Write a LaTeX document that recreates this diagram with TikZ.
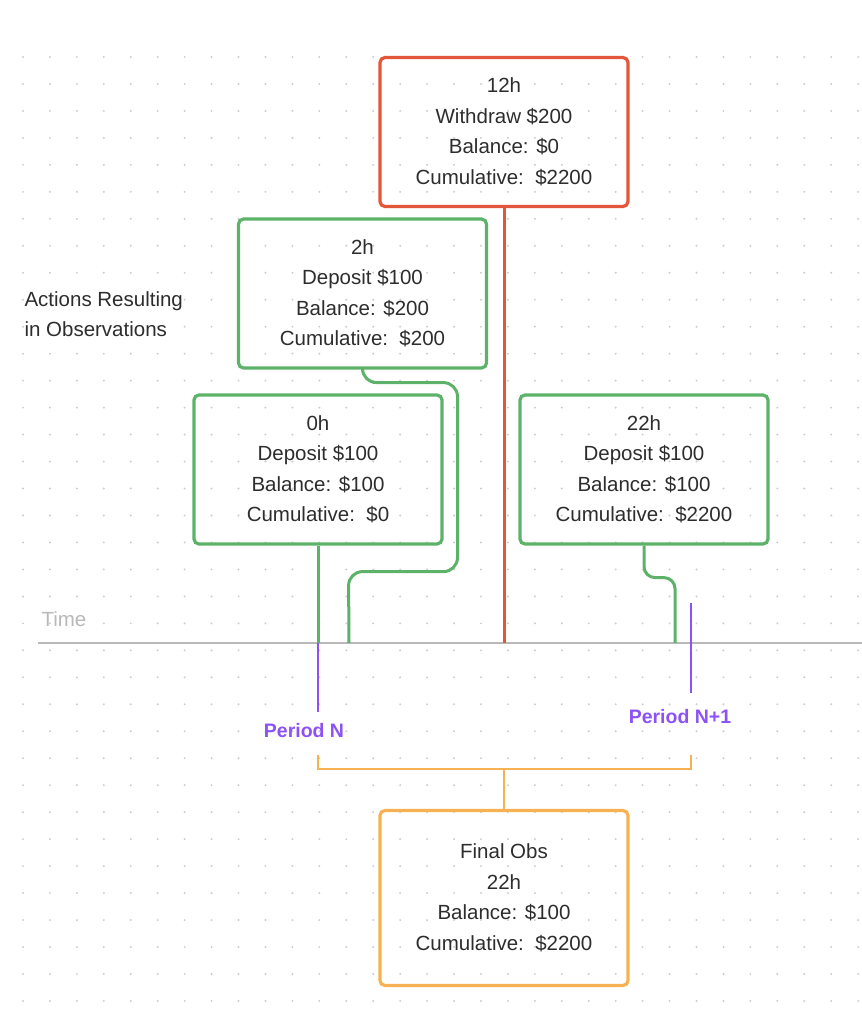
\documentclass[tikz,border=0pt]{standalone}
\usepackage{fontspec}
\setmainfont{Liberation Sans}
\usetikzlibrary{positioning}
\definecolor{obsgreen}{RGB}{92,178,104}
\definecolor{wdred}{RGB}{228,86,58}
\definecolor{finalorange}{RGB}{246,178,82}
\definecolor{periodpurple}{RGB}{140,82,245}
\definecolor{timegray}{RGB}{185,185,185}
\definecolor{textgray}{RGB}{45,45,45}
\definecolor{dotgray}{RGB}{205,205,205}

\begin{document}
\begin{tikzpicture}[x=1pt,y=-1pt,
		obsbox/.style={rectangle,rounded corners=5pt,line width=3.2pt,minimum width=248pt,minimum height=149pt,align=center,text=textgray,font=\fontsize{20.5}{30.5}\selectfont},
		link/.style={line width=3pt,rounded corners=14pt},
		periodlabel/.style={text=periodpurple,font=\bfseries\fontsize{19.5}{23}\selectfont}]
		\useasboundingbox (0,0) rectangle (862,1010);

		% dot grid
		\foreach \i in {0,...,31}
			\foreach \j in {0,...,35}
				\fill[dotgray] (23+26.94*\i,57+26.97*\j) circle (1.1pt);

		% time axis
		\coordinate (tstart) at (38,643);
		\coordinate (tend) at (862,643);
		\draw[timegray,line width=2.2pt] (tstart) -- (tend);
		\node[anchor=west,text=timegray,font=\fontsize{20.5}{24}\selectfont] (timelbl) at (38,619) {Time};

		% side label
		\node[anchor=west,align=left,text=textgray,font=\fontsize{20.5}{30}\selectfont] (actions) at (21,314) {Actions Resulting\\in Observations};

		% observation boxes
		\node[obsbox,draw=wdred] (obs12) at (504,132) {12h\\Withdraw \$200\\Balance: \$0\\Cumulative:\ \ \$2200};
		\node[obsbox,draw=obsgreen] (obs2) at (362.5,293.5) {2h\\Deposit \$100\\Balance: \$200\\Cumulative:\ \ \$200};
		\node[obsbox,draw=obsgreen] (obs0) at (318,469.5) {0h\\Deposit \$100\\Balance: \$100\\Cumulative:\ \ \$0};
		\node[obsbox,draw=obsgreen] (obs22) at (644,469.5) {22h\\Deposit \$100\\Balance: \$100\\Cumulative:\ \ \$2200};
		\node[obsbox,draw=finalorange,minimum height=175pt] (final) at (504,898) {Final Obs\\22h\\Balance: \$100\\Cumulative:\ \ \$2200};

		% hits on the time axis
		\coordinate (hit0) at (318,643);
		\coordinate (hit2) at (349,643);
		\coordinate (hit12) at (504,643);
		\coordinate (hit22) at (675,643);

		% connectors box -> time
		\draw[link,wdred] (obs12.south) -- (hit12);
		\draw[link,obsgreen] (obs0.south) -- (hit0);
		\draw[link,obsgreen] (obs2.south) -- ++(0,13) -- ++(95,0) -- ++(0,189) -- ++(-109,0) -- (hit2);
		\draw[link,obsgreen,rounded corners=11pt] (obs22.south) -- ++(0,32) -- ++(31,0) -- (hit22);

		% period marks
		\coordinate (pNbot) at (318,712);
		\coordinate (pMtop) at (691,603);
		\coordinate (pMbot) at (691,693);
		\draw[periodpurple,line width=2.6pt] (hit0) -- (pNbot);
		\draw[periodpurple,line width=2.6pt] (pMtop) -- (pMbot);
		\node[periodlabel] (perN) at (304,731) {Period N};
		\node[periodlabel] (perM) at (680,717) {Period N+1};

		% bracket to final observation
		\coordinate (brA) at (318,755);
		\coordinate (brB) at (691,755);
		\coordinate (brMid) at (504,769);
		\draw[finalorange,line width=2.6pt] (brA) -- (318,769) -- (691,769) -- (brB);
		\draw[finalorange,line width=2.6pt] (brMid) -- (final.north);
	\end{tikzpicture}
\end{document}
